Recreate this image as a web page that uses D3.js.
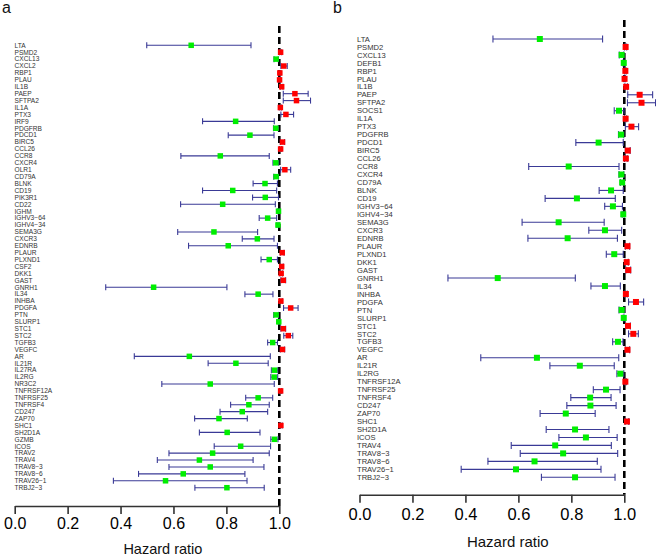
<!DOCTYPE html>
<html>
<head>
<meta charset="utf-8">
<script src="https://cdn.jsdelivr.net/npm/d3@7"></script>
<style>
  html, body { margin: 0; padding: 0; background: #fff; }
  svg { display: block; font-family: "Liberation Sans", Arial, Helvetica, sans-serif; }
</style>
</head>
<body>
<svg id="chart" width="656" height="558"></svg>
<script>
// ---------- Panel a data ----------
const genesA = ["LTA","PSMD2","CXCL13","CXCL2","RBP1","PLAU","IL1B","PAEP","SFTPA2","IL1A","PTX3","IRF9","PDGFRB","PDCD1","BIRC5","CCL26","CCR8","CXCR4","OLR1","CD79A","BLNK","CD19","PIK3R1","CD22","IGHM","IGHV3\u221264","IGHV4\u221234","SEMA3G","CXCR3","EDNRB","PLAUR","PLXND1","CSF2","DKK1","GAST","GNRH1","IL34","INHBA","PDGFA","PTN","SLURP1","STC1","STC2","TGFB3","VEGFC","AR","IL21R","IL27RA","IL2RG","NR3C2","TNFRSF12A","TNFRSF25","TNFRSF4","CD247","ZAP70","SHC1","SH2D1A","GZMB","ICOS","TRAV2","TRAV4","TRAV8\u22123","TRAV8\u22126","TRAV26\u22121","TRBJ2\u22123"];
const hrA   = [0.667,1.005,0.988,1.017,1.002,1.001,1.009,1.059,1.065,1.004,1.025,0.835,0.987,0.889,1.012,1.005,0.777,0.987,1.021,0.988,0.946,0.824,0.947,0.786,0.997,0.956,0.995,0.753,0.917,0.807,1.011,0.962,1.009,1.007,1.015,0.525,0.920,1.006,1.043,0.988,0.998,1.015,1.034,0.975,1.012,0.660,0.836,0.982,0.981,0.739,1.005,0.920,0.885,0.860,0.772,1.006,0.803,0.982,0.854,0.748,0.698,0.739,0.637,0.570,0.802];
const lowA  = [0.499,1.001,0.980,1.006,0.999,0.998,1.004,1.015,1.015,1.000,1.006,0.710,0.978,0.807,1.004,1.001,0.628,0.976,1.005,0.979,0.901,0.710,0.899,0.627,0.994,0.924,0.991,0.616,0.860,0.657,1.004,0.931,1.003,1.002,1.006,0.344,0.870,1.001,1.016,0.979,0.996,1.006,1.017,0.956,1.004,0.452,0.731,0.970,0.968,0.556,1.001,0.873,0.816,0.776,0.680,1.001,0.698,0.968,0.754,0.583,0.539,0.583,0.468,0.373,0.681];
const highA = [0.893,1.009,0.996,1.030,1.006,1.004,1.014,1.109,1.118,1.008,1.054,0.981,0.996,0.980,1.020,1.009,0.962,0.998,1.043,0.997,0.993,0.990,0.997,0.985,0.9995,0.990,0.999,0.918,0.980,0.993,1.018,0.993,1.015,1.012,1.024,0.802,0.976,1.011,1.071,0.997,0.9995,1.024,1.051,0.993,1.020,0.966,0.958,0.994,0.994,0.981,1.009,0.975,0.962,0.956,0.879,1.011,0.927,0.995,0.967,0.962,0.901,0.942,0.870,0.878,0.943];

// ---------- Panel b data ----------
const genesB = ["LTA","PSMD2","CXCL13","DEFB1","RBP1","PLAU","IL1B","PAEP","SFTPA2","SOCS1","IL1A","PTX3","PDGFRB","PDCD1","BIRC5","CCL26","CCR8","CXCR4","CD79A","BLNK","CD19","IGHV3\u221264","IGHV4\u221234","SEMA3G","CXCR3","EDNRB","PLAUR","PLXND1","DKK1","GAST","GNRH1","IL34","INHBA","PDGFA","PTN","SLURP1","STC1","STC2","TGFB3","VEGFC","AR","IL21R","IL2RG","TNFRSF12A","TNFRSF25","TNFRSF4","CD247","ZAP70","SHC1","SH2D1A","ICOS","TRAV4","TRAV8\u22123","TRAV8\u22126","TRAV26\u22121","TRBJ2\u22123"];
const hrB   = [0.681,1.005,0.990,0.998,1.004,1.001,1.007,1.058,1.065,0.980,1.005,1.027,0.988,0.903,1.013,1.006,0.790,0.989,0.992,0.950,0.821,0.957,0.996,0.752,0.927,0.786,1.012,0.962,1.009,1.015,0.522,0.927,1.006,1.044,0.990,0.998,1.014,1.034,0.976,1.012,0.670,0.832,0.985,1.004,0.931,0.871,0.872,0.779,1.010,0.814,0.855,0.739,0.769,0.661,0.591,0.814];
const lowB  = [0.504,1.001,0.981,0.995,1.001,0.999,1.002,1.013,1.012,0.962,1.001,1.004,0.978,0.817,1.004,1.001,0.639,0.980,0.985,0.905,0.701,0.926,0.992,0.614,0.866,0.636,1.004,0.932,1.003,1.006,0.334,0.874,1.001,1.016,0.980,0.996,1.005,1.016,0.956,1.004,0.458,0.719,0.972,1.001,0.883,0.798,0.783,0.682,1.003,0.705,0.753,0.573,0.607,0.485,0.384,0.687];
const highB = [0.918,1.009,0.998,0.9995,1.007,1.004,1.012,1.107,1.118,0.999,1.009,1.054,0.998,0.996,1.022,1.011,0.980,0.998,0.999,0.996,0.966,0.993,0.9995,0.924,0.990,0.974,1.020,0.996,1.015,1.024,0.815,0.985,1.011,1.073,0.999,0.9995,1.023,1.053,0.995,1.020,0.979,0.962,0.998,1.008,0.984,0.950,0.969,0.890,1.017,0.942,0.973,0.951,0.975,0.898,0.912,0.965];

// ---------- Axis ticks ----------
const tickValues = [0, 0.2, 0.4, 0.6, 0.8, 1.0];
const panelLetters = ["a", "b"];
const axisTitle = "Hazard ratio";

const svg = d3.select("#chart");

function drawPanel(cfg) {
  const { genes, hr, low, high } = cfg;
  const n = genes.length;
  const rows = genes.map((g, i) => ({ gene: g, hr: hr[i], low: low[i], high: high[i] }));

  const x = d3.scaleLinear().domain([0, 1]).range(cfg.xRange);
  const y = d3.scaleLinear().domain([0, n - 1]).range(cfg.yRange);

  const g = svg.append("g");

  // panel letter
  g.append("text")
    .attr("x", cfg.letterX).attr("y", 13)
    .attr("font-size", 16)
    .attr("fill", "#111")
    .text(cfg.letter);

  // reference dashed line at HR = 1
  g.append("line")
    .attr("x1", x(1)).attr("x2", x(1))
    .attr("y1", cfg.dashTop).attr("y2", cfg.axisY)
    .attr("stroke", "#000")
    .attr("stroke-width", 2.6)
    .attr("stroke-dasharray", "7,4");

  // gene labels
  g.append("g").selectAll("text")
    .data(rows).join("text")
    .attr("x", cfg.labelX)
    .attr("y", (d, i) => y(i))
    .attr("dy", "0.35em")
    .attr("font-size", cfg.labelSize)
    .attr("fill", "#333")
    .text(d => d.gene);

  // CI lines
  const ci = g.append("g").attr("stroke", "#3a3a96").attr("stroke-width", 1.1).attr("fill", "none");
  ci.selectAll("line.ci")
    .data(rows).join("line").attr("class", "ci")
    .attr("x1", d => x(d.low)).attr("x2", d => x(d.high))
    .attr("y1", (d, i) => y(i)).attr("y2", (d, i) => y(i));
  ci.selectAll("line.capl")
    .data(rows).join("line").attr("class", "capl")
    .attr("x1", d => x(d.low)).attr("x2", d => x(d.low))
    .attr("y1", (d, i) => y(i) - cfg.cap / 2).attr("y2", (d, i) => y(i) + cfg.cap / 2);
  ci.selectAll("line.caph")
    .data(rows).join("line").attr("class", "caph")
    .attr("x1", d => x(d.high)).attr("x2", d => x(d.high))
    .attr("y1", (d, i) => y(i) - cfg.cap / 2).attr("y2", (d, i) => y(i) + cfg.cap / 2);

  // point estimates
  g.append("g").selectAll("rect")
    .data(rows).join("rect")
    .attr("x", d => x(d.hr) - cfg.sq / 2)
    .attr("y", (d, i) => y(i) - cfg.sq / 2)
    .attr("width", cfg.sq).attr("height", cfg.sq)
    .attr("fill", d => d.hr > 1 ? "#ff0000" : "#00ee00");

  // x axis
  const axis = d3.axisBottom(x)
    .tickValues(tickValues)
    .tickFormat(d3.format(".1f"))
    .tickSize(8)
    .tickSizeOuter(0)
    .tickPadding(cfg.tickPad);
  const ax = g.append("g")
    .attr("transform", `translate(0,${cfg.axisY})`)
    .call(axis);
  ax.select(".domain").attr("stroke", "#333").attr("stroke-width", 1.6);
  ax.selectAll(".tick line").attr("stroke", "#333").attr("stroke-width", 1.6);
  ax.selectAll(".tick text")
    .attr("font-size", cfg.tickSize)
    .attr("fill", "#000")
    .attr("font-family", "'Liberation Sans', Arial, sans-serif");

  // axis title
  g.append("text")
    .attr("x", x(0.56))
    .attr("y", cfg.titleY)
    .attr("text-anchor", "middle")
    .attr("font-size", cfg.titleSize)
    .attr("fill", "#111")
    .text(axisTitle);
}

drawPanel({
  genes: genesA, hr: hrA, low: lowA, high: highA,
  letter: panelLetters[0], letterX: 2,
  xRange: [14.7, 279.3], yRange: [45.3, 487.7],
  dashTop: 26, axisY: 506, labelX: 14.5, labelSize: 6.6,
  cap: 6, sq: 5.5, tickPad: 4, tickSize: 16, titleY: 554, titleSize: 14.5
});

drawPanel({
  genes: genesB, hr: hrB, low: lowB, high: highB,
  letter: panelLetters[1], letterX: 333,
  xRange: [359.5, 624.3], yRange: [39, 477.3],
  dashTop: 20, axisY: 494.8, labelX: 357, labelSize: 7.6,
  cap: 7, sq: 6, tickPad: 5, tickSize: 16.5, titleY: 547, titleSize: 15
});
</script>
</body>
</html>
